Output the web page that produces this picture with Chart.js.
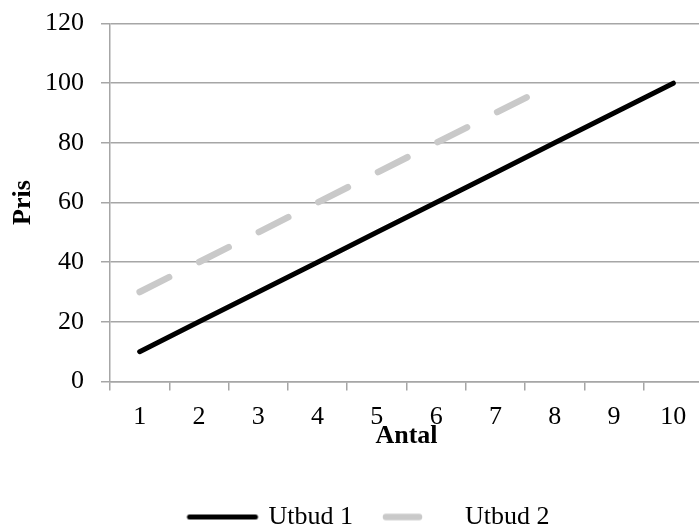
<!DOCTYPE html>
<html>
<head>
<meta charset="utf-8">
<script src="https://cdn.jsdelivr.net/npm/chart.js@4"></script>
<style>
  html, body { margin: 0; padding: 0; background: #fff; width: 699px; height: 530px; overflow: hidden; }
  #wrap { width: 703px; height: 540px; }
</style>
</head>
<body>
<div id="wrap"><canvas id="c" width="703" height="540"></canvas></div>
<script>
// Quantity on the x axis, price on the y axis
const antal = ['1', '2', '3', '4', '5', '6', '7', '8', '9', '10'];
const utbud1 = [10, 20, 30, 40, 50, 60, 70, 80, 90, 100];
const utbud2 = [30, 40, 50, 60, 70, 80, 90, 100];
const seriesNames = ['Utbud 1', 'Utbud 2'];
const prisMin = 0;
const prisMax = 120;
const prisStep = 20;

const FONT = 'Liberation Serif';
const GRID = '#a6a6a6';
const SAMPLE_LEN = 66;

const styles = [
  { color: '#000000', width: 5, dash: [] },
  { color: '#c9c9c9', width: 6.5, dash: [33, 33.7] }
];

// Small line swatch (with the series' dash pattern) used as the legend symbol
function lineSwatch(st) {
  const pad = Math.ceil(st.width / 2) + 1;
  const cv = document.createElement('canvas');
  cv.width = SAMPLE_LEN + pad * 2;
  cv.height = Math.ceil(st.width) + 4;
  const g = cv.getContext('2d');
  g.strokeStyle = st.color;
  g.lineWidth = st.width;
  g.lineCap = 'round';
  g.setLineDash(st.dash);
  g.beginPath();
  g.moveTo(pad, cv.height / 2);
  g.lineTo(pad + SAMPLE_LEN, cv.height / 2);
  g.stroke();
  return cv;
}

// Moves the legend row sideways so it sits under the plot like the original layout
const legendOffset = {
  id: 'legendOffset',
  afterLayout(chart, args, opts) {
    const lg = chart.legend;
    if (lg && opts.dx) { lg.left += opts.dx; lg.right += opts.dx; }
  }
};

new Chart(document.getElementById('c'), {
  type: 'line',
  data: {
    labels: antal,
    datasets: [utbud1, utbud2].map((vals, i) => ({
      label: seriesNames[i],
      data: vals,
      borderColor: styles[i].color,
      backgroundColor: styles[i].color,
      borderWidth: styles[i].width,
      borderDash: styles[i].dash,
      borderCapStyle: 'round',
      borderJoinStyle: 'round',
      pointRadius: 0,
      pointStyle: lineSwatch(styles[i]),
      tension: 0
    }))
  },
  options: {
    responsive: false,
    animation: false,
    layout: { padding: { top: 23.5, left: 0, right: 0, bottom: 0 } },
    plugins: {
      tooltip: { enabled: false },
      legendOffset: { dx: 18 },
      legend: {
        position: 'bottom',
        labels: {
          usePointStyle: true,
          pointStyleWidth: SAMPLE_LEN,
          padding: 33,
          color: '#000',
          font: { family: FONT, size: 26 }
        }
      }
    },
    scales: {
      x: {
        offset: true,
        grid: { display: true, drawOnChartArea: false, offset: true, tickLength: 9, color: GRID, lineWidth: 1.5 },
        border: { color: GRID, width: 1.5 },
        ticks: { color: '#000', padding: 11, maxRotation: 0, font: { family: FONT, size: 26 } },
        title: { display: true, text: 'Antal', color: '#000', padding: { top: 0, bottom: 19 }, font: { family: FONT, size: 26, weight: 'bold' } },
        afterFit(scale) { scale.height = 89.5; }
      },
      y: {
        min: prisMin,
        max: prisMax,
        grid: { color: GRID, lineWidth: 1.5, tickLength: 9 },
        border: { color: GRID, width: 1.5 },
        ticks: { stepSize: prisStep, color: '#000', padding: 17, font: { family: FONT, size: 26 } },
        title: { display: true, text: 'Pris', color: '#000', padding: { top: 8, bottom: 0 }, font: { family: FONT, size: 26, weight: 'bold' } },
        afterFit(scale) {
          scale.width = 110;
          // the top label may overhang the plot; the layout padding already leaves room
          scale.paddingTop = 0;
          scale.paddingBottom = 0;
        }
      }
    }
  },
  plugins: [legendOffset]
});
</script>
</body>
</html>
